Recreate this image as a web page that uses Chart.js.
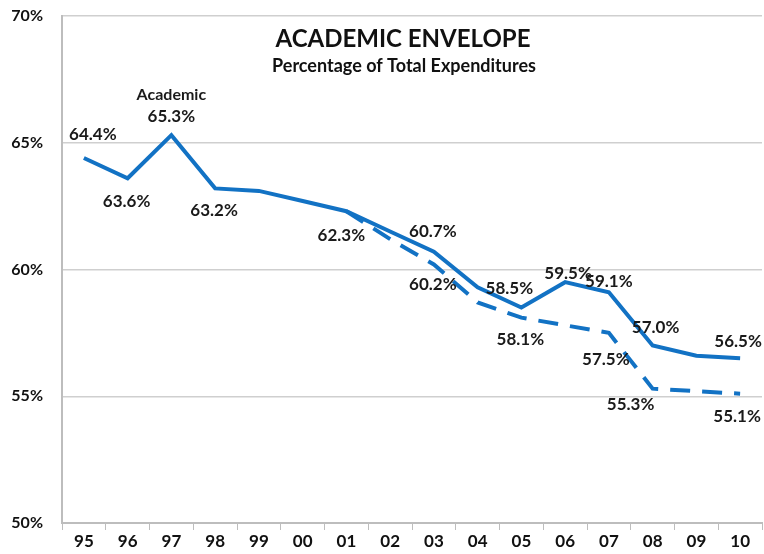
<!DOCTYPE html>
<html>
<head>
<meta charset="utf-8">
<script src="https://cdn.jsdelivr.net/npm/chart.js@4.4.1/dist/chart.umd.min.js"></script>
<style>
  html, body { margin: 0; padding: 0; background: #fff; }
  #wrap { width: 764px; height: 554px; position: relative; }
</style>
</head>
<body>
<div id="wrap"><canvas id="chart"></canvas></div>
<script>
/* ============================================================
   DATA
   ============================================================ */

const years    = ['95', '96', '97', '98', '99', '00', '01', '02', '03', '04', '05', '06', '07', '08', '09', '10'];
const academic = [64.4, 63.6, 65.3, 63.2, 63.1, 62.7, 62.3, 61.5, 60.7, 59.3, 58.5, 59.5, 59.1, 57.0, 56.6, 56.5];
const adjusted = [null, null, null, null, null, null, 62.3, 61.2, 60.2, 58.7, 58.1, 57.8, 57.5, 55.3, 55.2, 55.1];
const yTicks   = [50, 55, 60, 65, 70];

const BLUE = '#1272C4';
const FONT = 'Lato, "Open Sans", sans-serif';

// which points get a value label, and where it sits relative to the point
const labelSpots = [
  { ds: 0, i: 0,  dx: 9,   dy: -23 },
  { ds: 0, i: 1,  dx: -1,  dy: 23 },
  { ds: 0, i: 2,  dx: 0,   dy: -19, head: 'Academic' },
  { ds: 0, i: 3,  dx: -1,  dy: 22 },
  { ds: 0, i: 6,  dx: -5,  dy: 24 },
  { ds: 0, i: 8,  dx: -1,  dy: -20 },
  { ds: 0, i: 10, dx: -12, dy: -19 },
  { ds: 0, i: 11, dx: 3,   dy: -9 },
  { ds: 0, i: 12, dx: 0,   dy: -11 },
  { ds: 0, i: 13, dx: 3,   dy: -18 },
  { ds: 0, i: 15, dx: -2,  dy: -17 },
  { ds: 1, i: 8,  dx: -1,  dy: 20 },
  { ds: 1, i: 10, dx: -1,  dy: 22 },
  { ds: 1, i: 12, dx: -3,  dy: 27 },
  { ds: 1, i: 13, dx: -22, dy: 16 },
  { ds: 1, i: 15, dx: -3,  dy: 23 },
];

/* ============================================================
   PLUGINS
   ============================================================ */

const titlePlugin = {
  id: 'innerTitle',
  afterDraw(chart) {
    const c = chart.ctx;
    c.save();
    c.fillStyle = '#111';
    c.textAlign = 'center';
    c.textBaseline = 'middle';
    c.font = `bold 24px ${FONT}`;
    c.fillText('ACADEMIC ENVELOPE', 403, 39);
    c.font = `bold 18px ${FONT}`;
    c.fillText('Percentage of Total Expenditures', 404, 66);
    c.restore();
  },
};

const valueLabels = {
  id: 'valueLabels',
  afterDatasetsDraw(chart) {
    const c = chart.ctx;
    c.save();
    c.fillStyle = '#1a1a1a';
    c.textAlign = 'center';
    c.textBaseline = 'middle';
    labelSpots.forEach(s => {
      const pt  = chart.getDatasetMeta(s.ds).data[s.i];
      const val = chart.data.datasets[s.ds].data[s.i];
      if (!pt || val == null) return;
      const x = pt.x + s.dx, y = pt.y + s.dy;
      c.font = `bold 17px ${FONT}`;
      c.fillText(val.toFixed(1) + '%', x, y);
      if (s.head) {
        c.font = `bold 16px ${FONT}`;
        c.fillText(s.head, x, y - 21);
      }
    });
    c.restore();
  },
};

/* ============================================================
   CHART
   ============================================================ */

new Chart(document.getElementById('chart'), {
  type: 'line',
  data: {
    labels: years,
    datasets: [
      {
        label: 'Academic',
        data: academic,
        borderColor: BLUE,
        borderWidth: 4,
        pointRadius: 0,
        tension: 0,
        fill: false,
      },
      {
        label: 'Adjusted',
        data: adjusted,
        borderColor: BLUE,
        borderWidth: 4,
        borderDash: [20, 12],
        pointRadius: 0,
        tension: 0,
        fill: false,
      },
    ],
  },
  options: {
    responsive: true,
    maintainAspectRatio: false,
    animation: false,
    layout: { padding: { top: 0, right: 2, left: 0, bottom: 0 } },
    plugins: {
      legend: { display: false },
      tooltip: { enabled: false },
    },
    scales: {
      x: {
        offset: true,
        grid: {
          offset: true,
          drawOnChartArea: false,
          drawTicks: true,
          tickLength: 7,
          color: '#bdbdbd',
        },
        border: { color: '#bdbdbd', width: 2 },
        ticks: { color: '#111', font: { family: FONT, size: 17, weight: 'bold' }, padding: 1 },
        afterFit: s => { s.height = 31; },
      },
      y: {
        min: 50,
        max: 70,
        afterBuildTicks: s => { s.ticks = yTicks.map(v => ({ value: v })); },
        grid: { color: '#cfcfcf', lineWidth: 1.5, drawTicks: false },
        border: { color: '#bdbdbd', width: 2 },
        ticks: {
          color: '#111',
          font: { family: FONT, size: 16, weight: 'bold' },
          padding: 19,
          callback: v => v + '%',
        },
        afterFit: s => { s.width = 62; s.paddingTop = 16; s.paddingBottom = 0; },
      },
    },
  },
  plugins: [titlePlugin, valueLabels],
});
</script>
</body>
</html>
